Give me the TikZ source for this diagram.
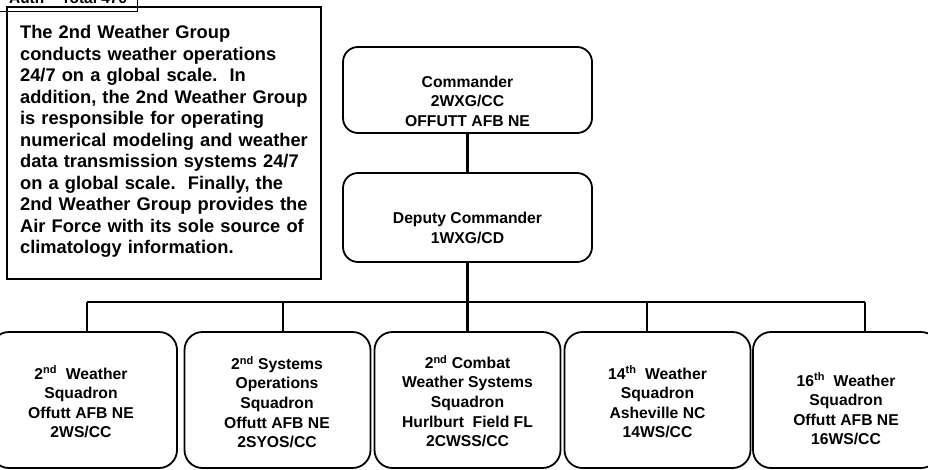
\documentclass[tikz,border=0pt]{standalone}
\usepackage{fontspec}
\setmainfont{Liberation Sans}
\usetikzlibrary{positioning}

\tikzset{
  unitbox/.style={draw, line width=1.8pt, rounded corners=18pt, minimum width=186pt, minimum height=136pt, inner sep=0pt},
  headbox/.style={draw, line width=1.8pt, rounded corners=15pt, minimum width=249pt, inner sep=0pt},
  unittext/.style={align=center, inner sep=0pt, font=\fontsize{15.7}{19.6}\selectfont\bfseries},
  bar/.style={line width=2.7pt},
}

\begin{document}
\begin{tikzpicture}[x=1pt,y=-1pt]
\useasboundingbox (0,0) rectangle (928,469);
\clip (0,0) rectangle (928,469);

\def\busy{302}
\def\unity{400}

\draw[line width=0.8pt] (-5,-20) rectangle (137,11);
\node[anchor=base west, inner sep=0pt, font=\fontsize{15.4}{17}\selectfont\bfseries] (auth) at (9,3) {Auth -- Total 476};

\node[draw, line width=2.2pt, anchor=north west, minimum width=314pt,
      text width=288pt, inner xsep=12pt, inner ysep=18.5pt, text depth=221.4pt, align=left,
      font=\fontsize{18.3}{21.5}\selectfont\bfseries\frenchspacing] (info) at (6,6)
  {The 2nd Weather Group\\
   conducts weather operations\\
   24/7 on a global scale.\ \ In\\
   addition, the 2nd Weather Group\\
   is responsible for operating\\
   numerical modeling and weather\\
   data transmission systems 24/7\\
   on a global scale.\ \ Finally, the\\
   2nd Weather Group provides the\\
   Air Force with its sole source of\\
   climatology information.};

\node[headbox, minimum height=86pt] (cmdbox) at (467.5,90) {};
\node[unittext] (cmd) at (467.5,101) {Commander\\2WXG/CC\\OFFUTT AFB NE};

\node[headbox, minimum height=89pt] (depbox) at (467.5,217.5) {};
\node[unittext] (dep) at (467.5,228) {Deputy Commander\\1WXG/CD};

\node[unitbox] (u1) at (84,\unity) {};
\node[unitbox] (u2) at (277.5,\unity) {};
\node[unitbox] (u3) at (467.5,\unity) {};
\node[unitbox] (u4) at (657.5,\unity) {};
\node[unitbox] (u5) at (846,\unity) {};

\node[unittext] (t1) at (81,402) {2\textsuperscript{nd} \ Weather\\Squadron\\Offutt AFB NE\\2WS/CC};
\node[unittext] (t2) at (277,402) {2\textsuperscript{nd} Systems\\Operations\\Squadron\\Offutt AFB NE\\2SYOS/CC};
\node[unittext] (t3) at (467.5,401) {2\textsuperscript{nd} Combat\\Weather Systems\\Squadron\\Hurlburt \ Field FL\\2CWSS/CC};
\node[unittext] (t4) at (657.5,402) {14\textsuperscript{th} \ Weather\\Squadron\\Asheville NC\\14WS/CC};
\node[unittext] (t5) at (846,409) {16\textsuperscript{th} \ Weather\\Squadron\\Offutt AFB NE\\16WS/CC};

\coordinate (bus) at (467.5,\busy);
\coordinate (j1) at (87,\busy);
\coordinate (j2) at (283,\busy);
\coordinate (j4) at (647,\busy);
\coordinate (j5) at (865,\busy);

\draw[bar] (cmdbox) -- (depbox);
\draw[bar] (depbox) -- (bus);
\draw[bar] (j1) -- (j5);
\draw[bar] (j1) -- (j1 |- u1.north);
\draw[bar] (j2) -- (j2 |- u2.north);
\draw[bar] (bus) -- (u3);
\draw[bar] (j4) -- (j4 |- u4.north);
\draw[bar] (j5) -- (j5 |- u5.north);

\end{tikzpicture}
\end{document}
